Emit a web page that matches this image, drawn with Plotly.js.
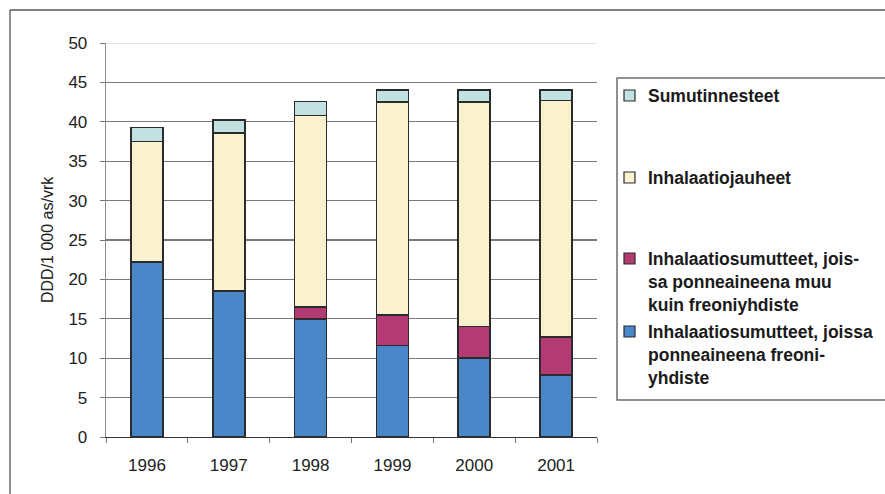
<!DOCTYPE html>
<html>
<head>
<meta charset="utf-8">
<script src="https://cdn.plot.ly/plotly-3.0.1.min.js"></script>
<style>
html,body{margin:0;padding:0;background:#fff;}
#chart{width:885px;height:494px;}
</style>
</head>
<body>
<div id="chart"></div>
<script>
// Data
const years = ['1996', '1997', '1998', '1999', '2000', '2001'];
const freon = [22.2, 18.5, 15.0, 11.6, 10.0, 7.9];          // Inhalaatiosumutteet, freoniyhdiste
const nonFreon = [0, 0, 1.5, 3.9, 4.0, 4.8];                 // muu kuin freoniyhdiste
const powders = [15.3, 20.1, 24.3, 27.0, 28.5, 30.0];        // Inhalaatiojauheet
const nebul = [1.8, 1.6, 1.8, 1.5, 1.5, 1.3];                // Sumutinnesteet

const names = [
  'Inhalaatiosumutteet, joissa<br>ponneaineena freoni-<br>yhdiste',
  'Inhalaatiosumutteet, jois-<br>sa ponneaineena muu<br>kuin freoniyhdiste',
  'Inhalaatiojauheet',
  'Sumutinnesteet'
];
const colors = ['#4a87c9', '#b43a74', '#faf1cf', '#c2e1e1'];
const series = [freon, nonFreon, powders, nebul];

// pixel geometry helpers
const W = 885, H = 494;
const L = 106, R = 597, T = 43, B = 437;
const px = x => (x - L) / (R - L);
const py = y => (B - y) / (B - T);

const traces = series.map((vals, i) => ({
  type: 'bar',
  x: years,
  y: vals,
  name: names[i],
  marker: {color: colors[i], line: {color: '#2b2b2b', width: 1.6}},
  showlegend: false,
  hoverinfo: 'x+y'
}));

// custom legend (positions in pixels)
const legendY = [[331, 375], [258, 302], [177, 177], [95, 95]];
const annotations = [];
const shapes = [];
series.forEach((_, i) => {
  const topLine = legendY[i][0];
  const nLines = names[i].split('<br>').length;
  annotations.push({
    xref: 'paper', yref: 'paper',
    x: px(646), y: py(topLine - 11),
    xanchor: 'left', yanchor: 'top', align: 'left',
    text: '<b>' + names[i] + '</b>',
    showarrow: false,
    font: {family: 'Liberation Sans, Arial, sans-serif', size: 17.5, color: '#1a1a1a'}
  });
  shapes.push({
    type: 'rect', xref: 'paper', yref: 'paper',
    x0: px(624), x1: px(635), y0: py(topLine + 6), y1: py(topLine - 5),
    fillcolor: colors[i], line: {color: '#2b2b2b', width: 1.2}
  });
});

// legend frame
shapes.push({type: 'rect', xref: 'paper', yref: 'paper',
  x0: px(617), x1: px(895), y0: py(400), y1: py(78),
  line: {color: '#6e6e6e', width: 1.5}, fillcolor: 'rgba(0,0,0,0)'});
// outer frame (left and top)
shapes.push({type: 'line', xref: 'paper', yref: 'paper',
  x0: px(10), x1: px(10), y0: py(500), y1: py(10), line: {color: '#555', width: 1.3}});
shapes.push({type: 'line', xref: 'paper', yref: 'paper',
  x0: px(10), x1: px(895), y0: py(10), y1: py(10), line: {color: '#555', width: 1.3}});

// y-axis title
annotations.push({
  xref: 'paper', yref: 'paper', x: px(47), y: py(240),
  text: 'DDD/1 000 as/vrk', textangle: -90, showarrow: false,
  xanchor: 'center', yanchor: 'middle',
  font: {family: 'Liberation Sans, Arial, sans-serif', size: 16, color: '#222'}
});

const layout = {
  width: W, height: H,
  margin: {l: L, r: W - R, t: T, b: H - B, pad: 0},
  paper_bgcolor: '#fff', plot_bgcolor: '#fff',
  barmode: 'stack',
  bargap: 0.61,
  showlegend: false,
  xaxis: {
    type: 'category', range: [-0.5, 5.5],
    showgrid: false, zeroline: false,
    showline: true, linecolor: '#333', linewidth: 1.3,
    ticks: 'outside', tickson: 'boundaries', ticklen: 5, tickcolor: '#777', tickwidth: 1,
    ticklabelstandoff: 12,
    tickfont: {family: 'Liberation Sans, Arial, sans-serif', size: 17, color: '#222'}
  },
  yaxis: {
    range: [0, 50], dtick: 5, tick0: 0,
    showgrid: true, gridcolor: '#7a7a7a', gridwidth: 1.3,
    zeroline: false,
    showline: true, linecolor: '#8a8a8a', linewidth: 1.3,
    ticks: 'outside', ticklen: 5, tickcolor: '#777', tickwidth: 1,
    ticklabelstandoff: 9,
    tickfont: {family: 'Liberation Sans, Arial, sans-serif', size: 17, color: '#222'}
  },
  shapes: shapes,
  annotations: annotations
};

// lighter top gridline at 50
layout.shapes.push({type: 'line', xref: 'paper', yref: 'y', x0: 0, x1: 1, y0: 50, y1: 50,
  line: {color: '#e2e2e2', width: 2}});

Plotly.newPlot('chart', traces, layout, {displayModeBar: false, staticPlot: true});
</script>
</body>
</html>
